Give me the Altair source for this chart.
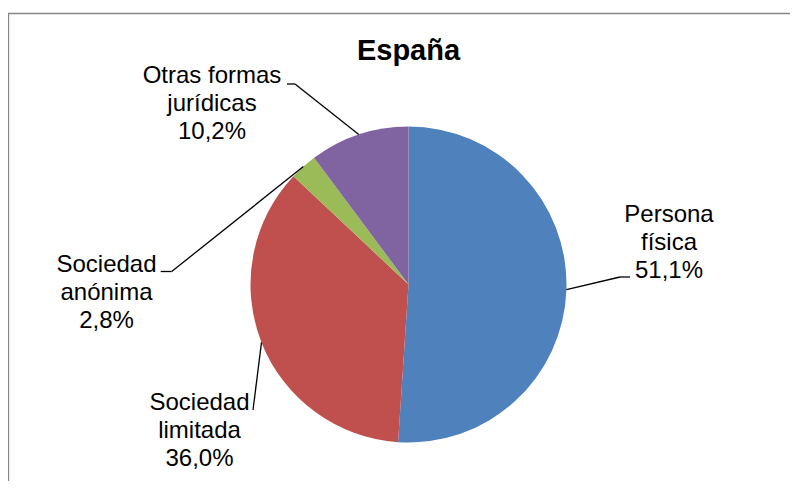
import math
import altair as alt
import pandas as pd

# ---- data ----
categories = ["Persona física", "Sociedad limitada", "Sociedad anónima", "Otras formas jurídicas"]
values = [51.1, 36.0, 2.8, 10.2]
label_lines = [["Persona", "física"], ["Sociedad", "limitada"], ["Sociedad", "anónima"], ["Otras formas", "jurídicas"]]
colors = ["#4F81BD", "#C0504D", "#9BBB59", "#8064A2"]
title_text = "España"

# ---- layout (page pixel coordinates) ----
W, H = 782, 473
CX, CY, R = 408.5, 284.5, 158
label_pos = [(669, 222), (199.5, 410), (106.5, 271.5), (212, 83)]
elbows = [
    [(620, 277), (630, 277)],
    [(253, 410)],
    [(171.7, 271.5), (160.7, 271.5)],
    [(295, 84), (287, 84)],
]
LINE_H = 28
FONT = "Liberation Sans"

pct = [f"{v:.1f}".replace(".", ",") + "%" for v in values]

pie_df = pd.DataFrame({"cat": categories, "val": values, "idx": list(range(len(values)))})

# text rows
txt_rows = []
for i, (lines, (lx, ly)) in enumerate(zip(label_lines, label_pos)):
    for j, t in enumerate(lines + [pct[i]]):
        txt_rows.append({"x": lx, "y": ly + j * LINE_H, "t": t})
txt_df = pd.DataFrame(txt_rows)

# leader segments from slice mid-angle
total = sum(values)
seg_rows = []
cum = 0.0
for i, v in enumerate(values):
    mid = (cum + v / 2) / total * 2 * math.pi
    cum += v
    pts = [(CX + R * math.sin(mid), CY - R * math.cos(mid))] + elbows[i]
    for a, b in zip(pts[:-1], pts[1:]):
        seg_rows.append({"x": a[0], "y": a[1], "x2": b[0], "y2": b[1]})
seg_df = pd.DataFrame(seg_rows)

xs = alt.Scale(domain=[8, 8 + W], range=[0, W])
ys = alt.Scale(domain=[8, 8 + H], range=[0, H])

pie = alt.Chart(pie_df).mark_arc(radius=R).encode(
    theta=alt.Theta("val:Q", stack=True),
    order=alt.Order("idx:Q"),
    color=alt.Color("cat:N", scale=alt.Scale(domain=categories, range=colors), legend=None),
    x=alt.value(CX - 8),
    y=alt.value(CY - 8),
)

leaders = alt.Chart(seg_df).mark_rule(color="black", strokeWidth=1.3).encode(
    x=alt.X("x:Q", scale=xs, axis=None),
    y=alt.Y("y:Q", scale=ys, axis=None),
    x2="x2:Q",
    y2="y2:Q",
)

labels = alt.Chart(txt_df).mark_text(
    font=FONT, fontSize=24, color="black", align="center", baseline="alphabetic"
).encode(
    x=alt.X("x:Q", scale=xs, axis=None),
    y=alt.Y("y:Q", scale=ys, axis=None),
    text="t:N",
)

title = alt.Chart(pd.DataFrame({"x": [CX], "y": [60], "t": [title_text]})).mark_text(
    font=FONT, fontSize=29, fontWeight="bold", color="black", align="center", baseline="alphabetic"
).encode(
    x=alt.X("x:Q", scale=xs, axis=None),
    y=alt.Y("y:Q", scale=ys, axis=None),
    text="t:N",
)

frame_df = pd.DataFrame({"x": [8, 8.5], "y": [13.5, 13.5], "x2": [800, 8.5], "y2": [13.5, 490]})
frame = alt.Chart(frame_df).mark_rule(color="#878787", strokeWidth=1.3).encode(
    x=alt.X("x:Q", scale=xs, axis=None),
    y=alt.Y("y:Q", scale=ys, axis=None),
    x2="x2:Q",
    y2="y2:Q",
)

chart = alt.layer(frame, pie, leaders, labels, title).properties(
    width=W, height=H, autosize="none", padding=0, background="white"
).configure_view(stroke=None)

chart.save("out.html", embed_options={"renderer": "svg", "actions": False})
